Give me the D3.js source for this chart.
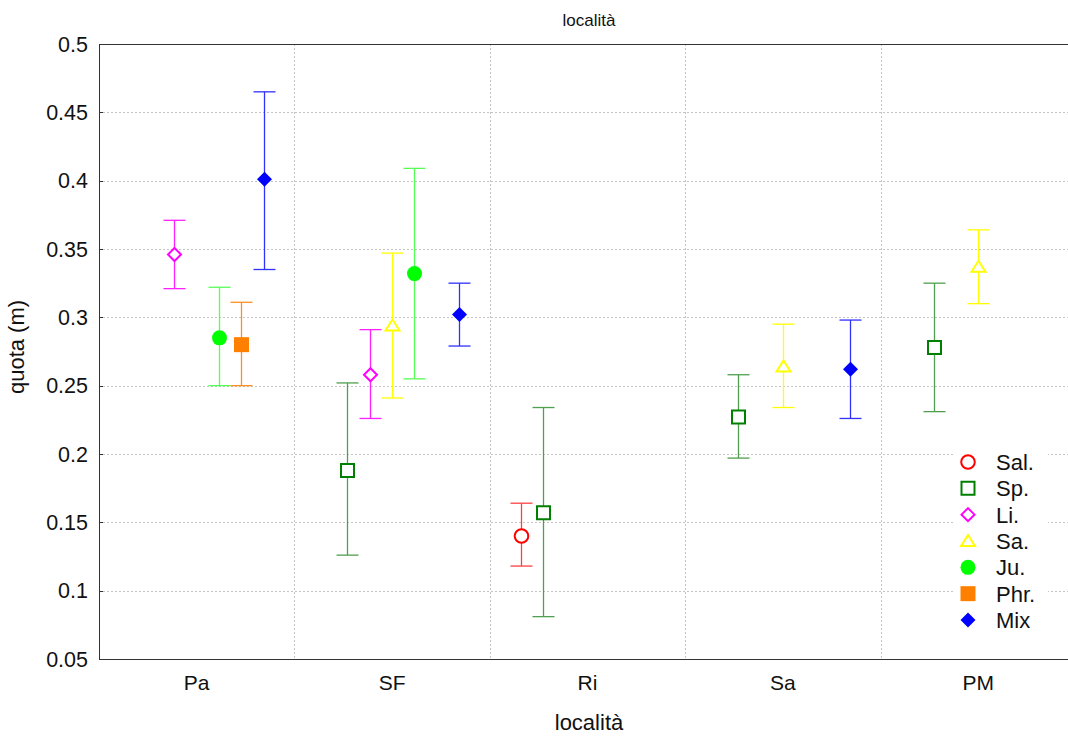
<!DOCTYPE html>
<html lang="it">
<head>
<meta charset="UTF-8">
<title>località</title>
<script src="https://d3js.org/d3.v7.min.js"></script>
<style>
  body { margin: 0; background: #fff; }
  svg { font-family: "Liberation Sans", Arial, sans-serif; }
  .grid line { stroke: #c4c4c4; stroke-dasharray: 2,2; }
</style>
</head>
<body>
<svg width="1068" height="738"></svg>
<script>
  // categories and series
  const categories = ["Pa", "SF", "Ri", "Sa", "PM"];
  const series = ["Sal.", "Sp.", "Li.", "Sa.", "Ju.", "Phr.", "Mix"];
  const yTicks = [0.05, 0.1, 0.15, 0.2, 0.25, 0.3, 0.35, 0.4, 0.45, 0.5];

  // means and error limits, one slot per category (null = missing)
  const salMean = [null, null, 0.140, null, null];
  const salLow  = [null, null, 0.118, null, null];
  const salHigh = [null, null, 0.164, null, null];

  const spMean = [null, 0.188, 0.157, 0.227, 0.278];
  const spLow  = [null, 0.126, 0.081, 0.197, 0.231];
  const spHigh = [null, 0.252, 0.234, 0.258, 0.325];

  const liMean = [0.346, 0.258, null, null, null];
  const liLow  = [0.321, 0.226, null, null, null];
  const liHigh = [0.371, 0.291, null, null, null];

  const saMean = [null, 0.294, null, 0.264, 0.337];
  const saLow  = [null, 0.241, null, 0.234, 0.310];
  const saHigh = [null, 0.347, null, 0.295, 0.364];

  const juMean = [0.285, 0.332, null, null, null];
  const juLow  = [0.250, 0.255, null, null, null];
  const juHigh = [0.322, 0.409, null, null, null];

  const phrMean = [0.280, null, null, null, null];
  const phrLow  = [0.250, null, null, null, null];
  const phrHigh = [0.311, null, null, null, null];

  const mixMean = [0.401, 0.302, null, 0.262, null];
  const mixLow  = [0.335, 0.279, null, 0.226, null];
  const mixHigh = [0.465, 0.325, null, 0.298, null];

  const means = [salMean, spMean, liMean, saMean, juMean, phrMean, mixMean];
  const lows = [salLow, spLow, liLow, saLow, juLow, phrLow, mixLow];
  const highs = [salHigh, spHigh, liHigh, saHigh, juHigh, phrHigh, mixHigh];

  const colors = ["#ff0000", "#008000", "#ff00ff", "#ffff00", "#00ff00", "#ff8000", "#0000ff"];
  const barColors = ["#ff4040", "#4f9f4f", "#ff20ff", "#ffff00", "#55ff55", "#ff9020", "#3030ff"];
  const shapes = ["circleOpen", "squareOpen", "diamondOpen", "triangleOpen", "circle", "square", "diamond"];

  const svg = d3.select("svg");
  const plotLeft = 99, plotRight = 1076, plotTop = 44, plotBottom = 659;

  const x = d3.scaleBand().domain(categories).range([plotLeft, plotRight]);
  const offset = d3.scalePoint().domain(series).range([-67, 67]);
  const y = d3.scaleLinear().domain([0.05, 0.5]).range([plotBottom, plotTop]);

  // grid
  const grid = svg.append("g").attr("class", "grid");
  grid.selectAll(".h").data(yTicks.slice(1, -1)).enter().append("line")
      .attr("x1", plotLeft + 4).attr("x2", 1068)
      .attr("y1", d => Math.round(y(d)) + 0.5).attr("y2", d => Math.round(y(d)) + 0.5);
  grid.selectAll(".v").data(categories.slice(1)).enter().append("line")
      .attr("x1", d => Math.round(x(d)) + 0.5).attr("x2", d => Math.round(x(d)) + 0.5)
      .attr("y1", plotTop).attr("y2", plotBottom);

  // axes frame
  svg.append("line").attr("x1", plotLeft + 0.5).attr("x2", plotLeft + 0.5)
      .attr("y1", plotTop).attr("y2", plotBottom + 1).attr("stroke", "#333");
  svg.append("line").attr("x1", plotLeft).attr("x2", 1068)
      .attr("y1", plotBottom + 0.5).attr("y2", plotBottom + 0.5).attr("stroke", "#333");
  svg.append("line").attr("x1", plotLeft).attr("x2", 1068)
      .attr("y1", plotTop + 0.5).attr("y2", plotTop + 0.5).attr("stroke", "#333");

  // y ticks
  svg.selectAll(".ytick").data(yTicks).enter().append("line")
      .attr("x1", plotLeft).attr("x2", plotLeft + 4)
      .attr("y1", d => Math.round(y(d)) + 0.5).attr("y2", d => Math.round(y(d)) + 0.5)
      .attr("stroke", "#333");
  svg.selectAll(".ylab").data(yTicks).enter().append("text")
      .attr("x", 88).attr("y", d => y(d)).attr("dy", "0.36em")
      .attr("text-anchor", "end").attr("font-size", 21.5).attr("fill", "#111")
      .text(d => String(+d.toFixed(2)));

  // x tick labels
  svg.selectAll(".xlab").data(categories).enter().append("text")
      .attr("x", d => x(d) + x.bandwidth() / 2).attr("y", 690)
      .attr("text-anchor", "middle").attr("font-size", 21).attr("fill", "#111")
      .text(d => d);

  // titles
  svg.append("text").attr("x", 589).attr("y", 26).attr("text-anchor", "middle")
      .attr("font-size", 17).attr("fill", "#111").text("località");
  svg.append("text").attr("x", 589).attr("y", 730).attr("text-anchor", "middle")
      .attr("font-size", 22).attr("fill", "#111").text("località");
  svg.append("text").attr("transform", "translate(24,347) rotate(-90)")
      .attr("text-anchor", "middle").attr("font-size", 22).attr("fill", "#111").text("quota (m)");

  function markerPath(shape) {
    const p = d3.path();
    if (shape.startsWith("circle")) {
      const r = shape === "circle" ? 7.5 : 6.8;
      p.moveTo(r, 0); p.arc(0, 0, r, 0, 2 * Math.PI);
    } else if (shape.startsWith("square")) {
      const s = shape === "square" ? 7.5 : 6.5;
      p.rect(-s, -s, 2 * s, 2 * s);
    } else if (shape.startsWith("diamond")) {
      const s = shape === "diamond" ? 7.5 : 6.5;
      p.moveTo(0, -s); p.lineTo(s, 0); p.lineTo(0, s); p.lineTo(-s, 0); p.closePath();
    } else {
      p.moveTo(0, -6); p.lineTo(7, 5); p.lineTo(-7, 5); p.closePath();
    }
    return p.toString();
  }

  // points per series
  series.forEach((name, i) => {
    const pts = categories.map((c, j) => ({ c, m: means[i][j], lo: lows[i][j], hi: highs[i][j] }))
        .filter(d => d.m !== null);
    const g = svg.append("g");
    const cx = d => Math.round(x(d.c) + x.bandwidth() / 2 + offset(name)) + 0.5;
    g.selectAll(".bar").data(pts).enter().append("line")
        .attr("x1", cx).attr("x2", cx)
        .attr("y1", d => y(d.hi)).attr("y2", d => y(d.lo))
        .attr("stroke", barColors[i]).attr("stroke-width", 1.3);
    g.selectAll(".capHi").data(pts).enter().append("line")
        .attr("x1", d => cx(d) - 11).attr("x2", d => cx(d) + 11)
        .attr("y1", d => y(d.hi)).attr("y2", d => y(d.hi))
        .attr("stroke", barColors[i]).attr("stroke-width", 1.3);
    g.selectAll(".capLo").data(pts).enter().append("line")
        .attr("x1", d => cx(d) - 11).attr("x2", d => cx(d) + 11)
        .attr("y1", d => y(d.lo)).attr("y2", d => y(d.lo))
        .attr("stroke", barColors[i]).attr("stroke-width", 1.3);
    const open = shapes[i].endsWith("Open");
    g.selectAll(".pt").data(pts).enter().append("path")
        .attr("transform", d => `translate(${cx(d)},${y(d.m)})`)
        .attr("d", markerPath(shapes[i]))
        .attr("fill", open ? "#fff" : colors[i])
        .attr("stroke", colors[i]).attr("stroke-width", open ? 2 : 0);
  });

  // legend
  const legend = svg.append("g");
  legend.append("rect").attr("x", 953).attr("y", 448).attr("width", 95).attr("height", 184).attr("fill", "#fff");
  const ly = d3.scalePoint().domain(series).range([462, 620]);
  series.forEach((name, i) => {
    const open = shapes[i].endsWith("Open");
    legend.append("path")
        .attr("transform", `translate(968,${ly(name)})`)
        .attr("d", markerPath(shapes[i]))
        .attr("fill", open ? "#fff" : colors[i])
        .attr("stroke", colors[i]).attr("stroke-width", open ? 2 : 0);
    legend.append("text").attr("x", 996).attr("y", ly(name)).attr("dy", "0.36em")
        .attr("font-size", 22).attr("fill", "#111").text(name);
  });
</script>
</body>
</html>
